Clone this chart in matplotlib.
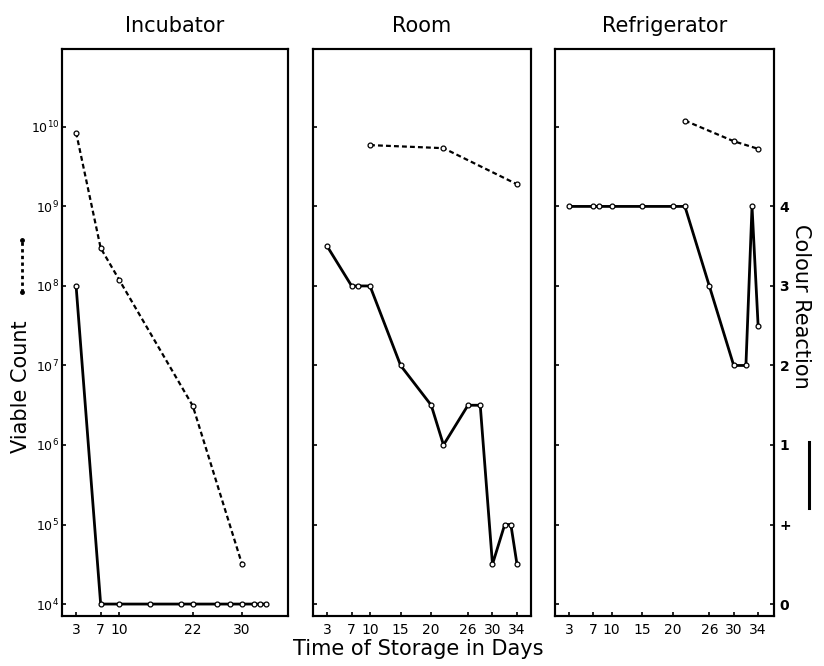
import matplotlib
matplotlib.use('Agg')
import matplotlib.pyplot as plt
from matplotlib.lines import Line2D

# colour reaction scale positions: 0 -> '0', 1 -> '+', 2 -> '1', 3 -> '2', 4 -> '3', 5 -> '4'
colour_labels = ['0', '+', '1', '2', '3', '4']

inc_count_days = [3, 7, 10, 22, 30]
inc_count = [8.5e9, 3.0e8, 1.2e8, 3.1e6, 3.2e4]
inc_colour_days = [3, 7, 10, 15, 20, 22, 26, 28, 30, 32, 33, 34]
inc_colour = [4, 0, 0, 0, 0, 0, 0, 0, 0, 0, 0, 0]

room_count_days = [10, 22, 34]
room_count = [5.9e9, 5.4e9, 1.9e9]
room_colour_days = [3, 7, 8, 10, 15, 20, 22, 26, 28, 30, 32, 33, 34]
room_colour = [4.5, 4, 4, 4, 3, 2.5, 2, 2.5, 2.5, 0.5, 1, 1, 0.5]

fridge_count_days = [22, 30, 34]
fridge_count = [1.2e10, 6.6e9, 5.3e9]
fridge_colour_days = [3, 7, 8, 10, 15, 20, 22, 26, 30, 32, 33, 34]
fridge_colour = [5, 5, 5, 5, 5, 5, 5, 4, 3, 3, 5, 3.5]

titles = ['Incubator', 'Room', 'Refrigerator']
xticks_inc = [3, 7, 10, 22, 30]
xticks_other = [3, 7, 10, 15, 20, 26, 30, 34]
decades = [1e4, 1e5, 1e6, 1e7, 1e8, 1e9, 1e10]

plt.rcParams['font.family'] = ['DejaVu Sans']

fig = plt.figure(figsize=(8.24, 6.66), dpi=100)

panels = [
    (0.0752, 0.2743, (0.7, 37.5), xticks_inc,
     inc_count_days, inc_count, inc_colour_days, inc_colour),
    (0.3799, 0.2646, (0.7, 36.3), xticks_other,
     room_count_days, room_count, room_colour_days, room_colour),
    (0.6735, 0.2658, (0.7, 36.6), xticks_other,
     fridge_count_days, fridge_count, fridge_colour_days, fridge_colour),
]

for i, (left, width, xl, xt, cd, cv, rd, rv) in enumerate(panels):
    ax = fig.add_axes([left, 0.0751, width, 0.8514])
    ax.set_yscale('log')
    ax.set_ylim(10 ** 3.85, 10 ** 10.98)
    ax.set_xlim(*xl)
    ax.plot(cd, cv, color='black', linestyle=(0, (2.2, 1.4)), linewidth=1.6,
            marker='o', markersize=3.5, markerfacecolor='white',
            markeredgecolor='black', markeredgewidth=0.9, zorder=3)
    ax.set_yticks(decades)
    ax.minorticks_off()
    ax.tick_params(axis='y', which='both', direction='in', length=3, width=1.2,
                   right=True, labelsize=9, pad=2)
    if i == 0:
        ax.set_yticklabels(['$10^{%d}$' % k for k in range(4, 11)])
    else:
        ax.set_yticklabels([])
    ax.set_xticks(xt)
    ax.set_xticklabels([str(t) for t in xt])
    ax.tick_params(axis='x', direction='in', length=3, width=1.2, labelsize=10, pad=5)
    for s in ax.spines.values():
        s.set_linewidth(1.5)
    ax.set_title(titles[i], fontsize=15, pad=12)

    ax2 = ax.twinx()
    ax2.set_ylim(-0.15, 6.98)
    ax2.plot(rd, rv, color='black', linestyle='-', linewidth=2.0,
             marker='o', markersize=3.5, markerfacecolor='white',
             markeredgecolor='black', markeredgewidth=0.9, zorder=4)
    ax2.set_yticks(range(len(colour_labels)))
    ax2.tick_params(axis='y', direction='in', length=3, width=1.2, labelsize=10, pad=4)
    if i == 2:
        ax2.set_yticklabels(colour_labels, fontweight='bold')
    else:
        ax2.set_yticklabels([])
        ax2.tick_params(axis='y', length=0)
    for s in ax2.spines.values():
        s.set_linewidth(1.5)

fig.text(0.507, 0.025, 'Time of Storage in Days', ha='center', va='center', fontsize=15)
fig.text(0.025, 0.42, 'Viable Count', ha='center', va='center', rotation=90, fontsize=15)
fig.add_artist(Line2D([0.027, 0.027], [1 - 292 / 666, 1 - 240 / 666],
                      transform=fig.transFigure, color='black',
                      linestyle=(0, (1.2, 1.2)), linewidth=2.0,
                      marker='o', markersize=2.5, markevery=[0, 1]))
fig.text(0.972, 0.54, 'Colour Reaction', ha='center', va='center', rotation=-90, fontsize=15)
fig.add_artist(Line2D([0.982, 0.982], [1 - 508 / 666, 1 - 442 / 666],
                      transform=fig.transFigure, color='black', linewidth=2.2))

fig.savefig('out.png', dpi=100)
